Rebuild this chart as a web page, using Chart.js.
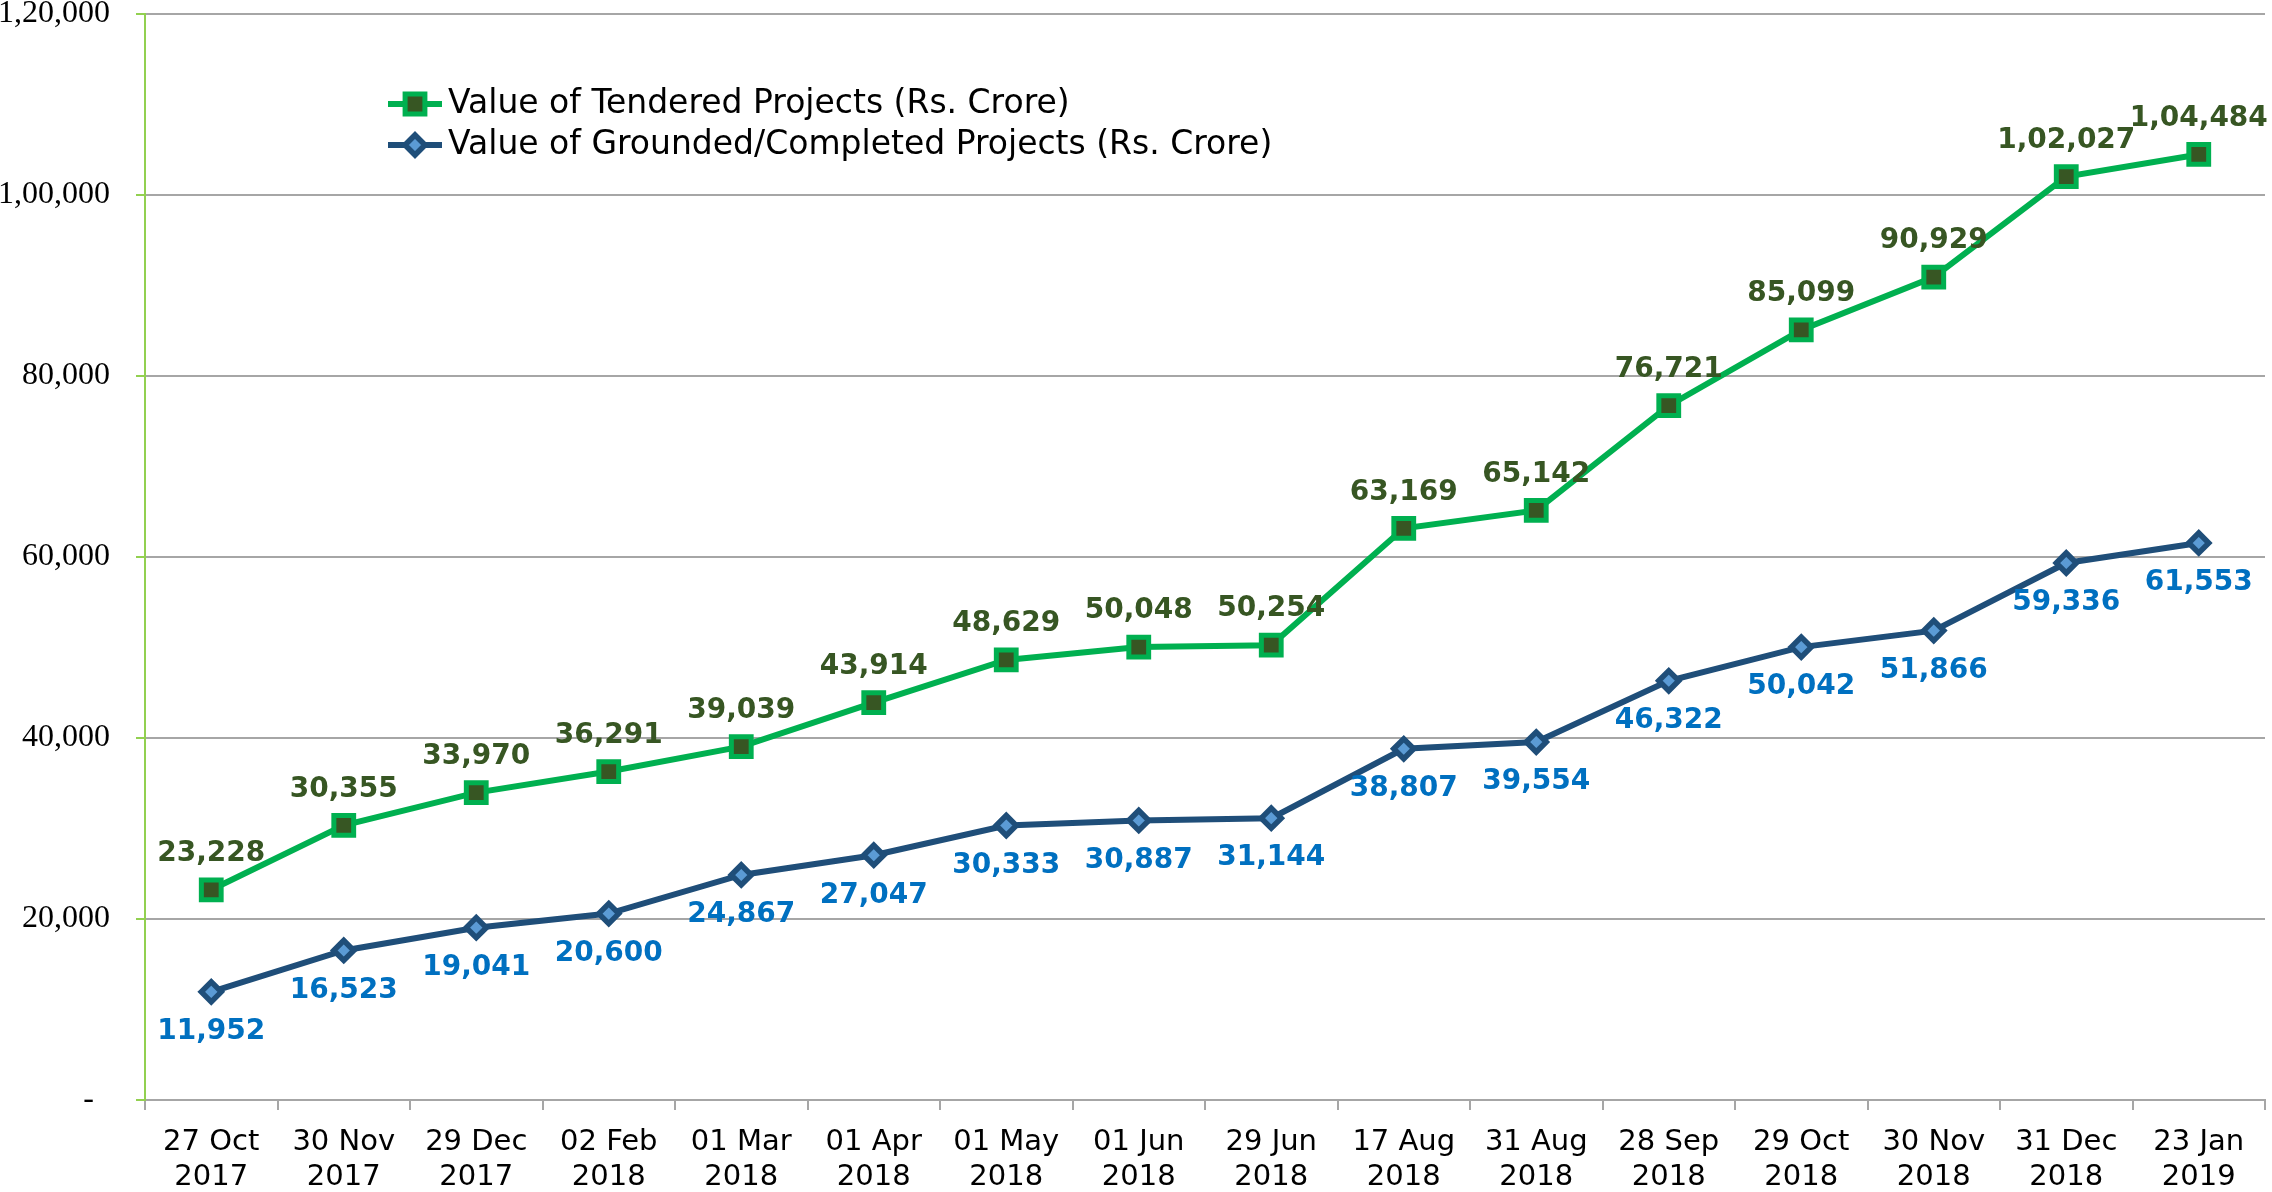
<!DOCTYPE html>
<html>
<head>
<meta charset="utf-8">
<script src="https://cdn.jsdelivr.net/npm/chart.js"></script>
<style>
  html, body { margin: 0; padding: 0; background: #fff; }
  #wrap { width: 2272px; height: 1192px; }
</style>
</head>
<body>
<div id="wrap"><canvas id="projChart" width="2272" height="1192"></canvas></div>
<script>
const dateLabels = [
    ['27 Oct', '2017'], ['30 Nov', '2017'], ['29 Dec', '2017'], ['02 Feb', '2018'],
    ['01 Mar', '2018'], ['01 Apr', '2018'], ['01 May', '2018'], ['01 Jun', '2018'],
    ['29 Jun', '2018'], ['17 Aug', '2018'], ['31 Aug', '2018'], ['28 Sep', '2018'],
    ['29 Oct', '2018'], ['30 Nov', '2018'], ['31 Dec', '2018'], ['23 Jan', '2019']
];
const tenderedValues = [23228, 30355, 33970, 36291, 39039, 43914, 48629, 50048, 50254, 63169, 65142, 76721, 85099, 90929, 102027, 104484];
const groundedValues = [11952, 16523, 19041, 20600, 24867, 27047, 30333, 30887, 31144, 38807, 39554, 46322, 50042, 51866, 59336, 61553];
const seriesNames = ['Value of Tendered Projects (Rs. Crore)', 'Value of Grounded/Completed Projects (Rs. Crore)'];

const tenderLine = '#00B050';
const tenderFill = '#375623';
const groundLine = '#1F4E79';
const groundFill = '#5B9BD5';
const groundText = '#0070C0';

// indian digit grouping, e.g. 1,02,027
function indianFormat(n) {
    const s = String(Math.round(n));
    if (s.length <= 3) return s;
    const last3 = s.slice(-3);
    let rest = s.slice(0, -3);
    const parts = [];
    while (rest.length > 2) {
        parts.unshift(rest.slice(-2));
        rest = rest.slice(0, -2);
    }
    if (rest) parts.unshift(rest);
    return parts.join(',') + ',' + last3;
}

// value labels above (tendered) / below (grounded) each point
const valueLabels = {
    id: 'valueLabels',
    afterDatasetsDraw(chart) {
        const ctx = chart.ctx;
        ctx.save();
        ctx.font = 'bold 28px "DejaVu Sans"';
        ctx.textAlign = 'center';
        ctx.textBaseline = 'middle';
        chart.data.datasets.forEach((ds, i) => {
            const meta = chart.getDatasetMeta(i);
            meta.data.forEach((pt, j) => {
                const above = ds.labelPos === 'above';
                ctx.fillStyle = ds.labelColor;
                ctx.fillText(indianFormat(ds.data[j]), pt.x, above ? pt.y - 36 : pt.y + 40);
            });
        });
        ctx.restore();
    }
};

// legend sits inside the plot area, stacked vertically
const innerLegend = {
    id: 'innerLegend',
    afterDraw(chart) {
        const ctx = chart.ctx;
        const area = chart.chartArea;
        const x0 = area.left + 243;
        let y = area.top + 90;
        ctx.save();
        chart.data.datasets.forEach((ds) => {
            ctx.strokeStyle = ds.borderColor;
            ctx.lineWidth = ds.borderWidth;
            ctx.beginPath();
            ctx.moveTo(x0, y);
            ctx.lineTo(x0 + 54, y);
            ctx.stroke();
            ctx.fillStyle = ds.pointBackgroundColor;
            ctx.strokeStyle = ds.pointBorderColor;
            ctx.lineWidth = ds.pointBorderWidth;
            Chart.helpers.drawPoint(ctx, {pointStyle: ds.pointStyle, radius: ds.pointRadius, rotation: 0, borderWidth: ds.pointBorderWidth}, x0 + 27, y);
            ctx.fillStyle = '#000';
            ctx.font = '33px "DejaVu Sans"';
            ctx.textAlign = 'left';
            ctx.textBaseline = 'middle';
            ctx.fillText(ds.label, x0 + 60, y);
            y += 41;
        });
        ctx.restore();
    }
};

const ctx = document.getElementById('projChart').getContext('2d');
const projChart = new Chart(ctx, {
    type: 'line',
    plugins: [valueLabels, innerLegend],
    data: {
        labels: dateLabels,
        datasets: [
            {
                label: seriesNames[0],
                data: tenderedValues,
                borderColor: tenderLine,
                borderWidth: 6,
                pointStyle: 'rect',
                pointRadius: 14,
                pointBorderWidth: 5,
                pointBackgroundColor: tenderFill,
                pointBorderColor: tenderLine,
                labelColor: tenderFill,
                labelPos: 'above'
            },
            {
                label: seriesNames[1],
                data: groundedValues,
                borderColor: groundLine,
                borderWidth: 6,
                pointStyle: 'rectRot',
                pointRadius: 10,
                pointBorderWidth: 5.5,
                pointBackgroundColor: groundFill,
                pointBorderColor: groundLine,
                labelColor: groundText,
                labelPos: 'below'
            }
        ]
    },
    options: {
        responsive: false,
        animation: false,
        layout: { autoPadding: false, padding: { top: 14, right: 7, left: 0, bottom: 0 } },
        plugins: {
            legend: { display: false },
            tooltip: { enabled: false }
        },
        scales: {
            x: {
                offset: true,
                grid: {
                    offset: true,
                    drawOnChartArea: false,
                    color: '#A6A6A6',
                    tickLength: 10,
                    lineWidth: 2
                },
                border: { color: '#A6A6A6', width: 2 },
                ticks: {
                    color: '#000',
                    font: { family: 'DejaVu Sans', size: 29, lineHeight: 1.2 },
                    padding: 15,
                    maxRotation: 0,
                    autoSkip: false
                },
                afterFit(scale) {
                    scale.height = 92;
                    scale.paddingLeft = 0;
                    scale.paddingRight = 0;
                }
            },
            y: {
                min: 0,
                max: 120000,
                grid: {
                    color: '#A6A6A6',
                    tickColor: '#92D050',
                    tickLength: 9,
                    lineWidth: 2
                },
                border: { color: '#92D050', width: 2 },
                ticks: {
                    stepSize: 20000,
                    color: '#000',
                    padding: 26,
                    font: { family: 'Liberation Serif', size: 32 },
                    callback: (v) => v === 0 ? '-  ' : indianFormat(v)
                },
                afterFit(scale) {
                    scale.width = 145;
                    scale.paddingTop = 0;
                    scale.paddingBottom = 0;
                }
            }
        }
    }
});
</script>
</body>
</html>
